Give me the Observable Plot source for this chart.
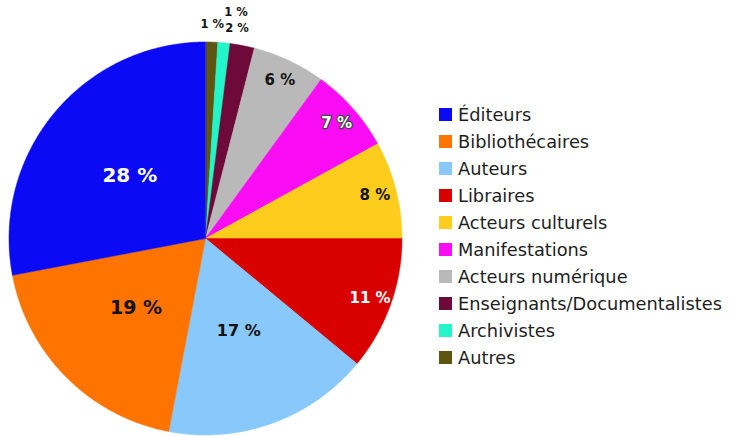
<!DOCTYPE html>
<html>
<head>
<meta charset="utf-8">
<script src="https://cdn.jsdelivr.net/npm/d3@7"></script>
<script src="https://cdn.jsdelivr.net/npm/@observablehq/plot@0.6"></script>
<style>
  html, body { margin: 0; padding: 0; background: #fff; }
  #wrap { position: relative; width: 734px; height: 436px; overflow: hidden; }
  #legend { position: absolute; left: 439px; top: 101px; font-family: "DejaVu Sans", sans-serif; font-size: 17.8px; color: #1e1e1e; }
  .item { display: flex; align-items: center; height: 27px; white-space: nowrap; }
  .sw { width: 13px; height: 13px; margin-right: 6px; flex: none; }
</style>
</head>
<body>
<div id="wrap"><div id="legend"></div></div>
<script>
// Legend order (top to bottom)
const categories = ["Éditeurs", "Bibliothécaires", "Auteurs", "Libraires", "Acteurs culturels",
  "Manifestations", "Acteurs numérique", "Enseignants/Documentalistes", "Archivistes", "Autres"];
const values = [28, 19, 17, 11, 8, 7, 6, 2, 1, 1];
const colors = ["#0a0af5", "#ff7300", "#88c8fa", "#d90000", "#fdcc1d",
  "#fa0cf5", "#b9b9b9", "#6e0a3a", "#22f5c8", "#5e5510"];
const whiteLabels = ["Éditeurs", "Libraires", "Manifestations"];

// Pie is drawn clockwise from 12 o'clock in reverse legend order
const order = categories.map((c, i) => i).reverse();
const total = d3.sum(values);
const slices = [];
const labels = [];
let cum = 0;
const smallIdx = [];
order.forEach(i => {
  const a0 = cum / total * 2 * Math.PI;
  cum += values[i];
  const a1 = cum / total * 2 * Math.PI;
  const n = Math.max(2, Math.ceil((a1 - a0) / (Math.PI / 360)));
  slices.push({name: categories[i], color: colors[i], x: 0, y: 0});
  for (let k = 0; k <= n; k++) {
    const a = a0 + (a1 - a0) * k / n;
    slices.push({name: categories[i], color: colors[i], x: Math.sin(a), y: Math.cos(a)});
  }
  const v = values[i];
  let r = v >= 15 ? 0.5 : v >= 5 ? 0.89 : 1.09;
  let am = (a0 + a1) / 2;
  if (v < 5) {
    smallIdx.push(i);
    const s = smallIdx.length;
    if (s === 2) { r = 1.16; am += 0.04; }
    if (s === 3) { r = 1.08; am -= 0.04; }
  }
  const size = v >= 25 ? 20 : v >= 18 ? 19 : v >= 15 ? 16 : v >= 5 ? 15 : 11.5;
  labels.push({name: categories[i], text: v + " %", x: r * Math.sin(am), y: r * Math.cos(am),
    size, fill: whiteLabels.includes(categories[i]) ? "white" : "#111"});
});

const R = 196.5, cx = 205, cy = 238, W = 734, H = 436;
const chart = Plot.plot({
  width: W, height: H,
  marginLeft: cx - R, marginRight: W - (cx + R),
  marginTop: cy - R, marginBottom: H - (cy + R),
  x: {domain: [-1, 1], axis: null},
  y: {domain: [-1, 1], axis: null},
  marks: [
    Plot.line(slices, {x: "x", y: "y", z: "name", fill: d => d.color, stroke: d => d.color, strokeWidth: 0.5, curve: "linear-closed"}),
    ...labels.map(l => Plot.text([l], {
      x: "x", y: "y", text: "text", fill: l.fill,
      fontSize: l.size, fontWeight: "bold", fontFamily: "DejaVu Sans",
      stroke: l.name === "Manifestations" ? "#444" : null,
      strokeWidth: l.name === "Manifestations" ? 2.5 : 0
    }))
  ]
});
document.getElementById("wrap").prepend(chart);
chart.style.position = "absolute";
chart.style.left = "0";
chart.style.top = "0";

const legend = document.getElementById("legend");
categories.forEach((c, i) => {
  const it = document.createElement("div");
  it.className = "item";
  const sw = document.createElement("span");
  sw.className = "sw";
  sw.style.background = colors[i];
  const t = document.createElement("span");
  t.textContent = c;
  it.append(sw, t);
  legend.append(it);
});
</script>
</body>
</html>
